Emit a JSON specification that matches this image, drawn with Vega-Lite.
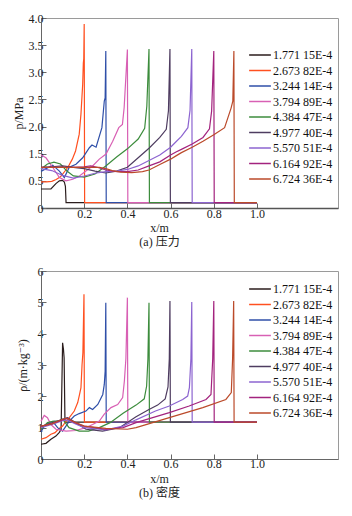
{
"$schema": "https://vega.github.io/schema/vega-lite/v6.json",
"background": "white",
"padding": {"left": 11, "top": 11, "right": 0, "bottom": 0},
"autosize": {"type": "pad"},
"spacing": 63,
"bounds": "flush",
"resolve": {"legend": {"color": "independent"}},
"config": {
 "font": "Liberation Serif, Times New Roman, DejaVu Serif, serif",
 "view": {"stroke": "#9a9a9a", "strokeWidth": 1},
 "axis": {"grid": false, "labelFont": "Liberation Serif, Times New Roman, DejaVu Serif, serif", "labelFontSize": 12, "labelColor": "#222", "titleFont": "Liberation Serif, Times New Roman, DejaVu Serif, serif", "titleFontSize": 12, "titleFontWeight": "normal", "titleColor": "#222", "tickSize": -5, "tickColor": "#666", "domainColor": "#666"},
 "legend": {"orient": "none", "legendX": 210.5, "title": null, "symbolType": "M-1.45,0H1.45", "symbolSize": 225, "symbolStrokeWidth": 1.5, "labelFont": "Liberation Serif, Times New Roman, DejaVu Serif, serif", "labelFontSize": 12, "labelColor": "#111", "labelOffset": 4.5, "rowPadding": 0.5, "padding": 0, "labelLimit": 200},
 "title": {"font": "Liberation Serif, Times New Roman, Noto Sans CJK SC, serif", "fontSize": 12, "fontWeight": "normal", "color": "#222"}
},
"datasets": {
"pres": [
{"s":"1.771 15E-4","x":0,"y":0.35},{"s":"1.771 15E-4","x":0.046,"y":0.35},{"s":"1.771 15E-4","x":0.069,"y":0.45},{"s":"1.771 15E-4","x":0.085,"y":0.5},{"s":"1.771 15E-4","x":0.1,"y":0.52},{"s":"1.771 15E-4","x":0.108,"y":0.48},{"s":"1.771 15E-4","x":0.113,"y":0.4},{"s":"1.771 15E-4","x":0.116,"y":0.1},{"s":"1.771 15E-4","x":1.0,"y":0.1},
{"s":"2.673 82E-4","x":0,"y":0.48},{"s":"2.673 82E-4","x":0.025,"y":0.48},{"s":"2.673 82E-4","x":0.05,"y":0.49},{"s":"2.673 82E-4","x":0.07,"y":0.55},{"s":"2.673 82E-4","x":0.09,"y":0.65},{"s":"2.673 82E-4","x":0.1,"y":0.75},{"s":"2.673 82E-4","x":0.115,"y":0.9},{"s":"2.673 82E-4","x":0.13,"y":1.08},{"s":"2.673 82E-4","x":0.145,"y":1.3},{"s":"2.673 82E-4","x":0.16,"y":1.55},{"s":"2.673 82E-4","x":0.177,"y":1.86},{"s":"2.673 82E-4","x":0.185,"y":2.23},{"s":"2.673 82E-4","x":0.193,"y":2.78},{"s":"2.673 82E-4","x":0.196,"y":3.17},{"s":"2.673 82E-4","x":0.198,"y":3.25},{"s":"2.673 82E-4","x":0.2,"y":3.89},{"s":"2.673 82E-4","x":0.202,"y":0.1},{"s":"2.673 82E-4","x":1.0,"y":0.1},
{"s":"3.244 14E-4","x":0,"y":0.85},{"s":"3.244 14E-4","x":0.023,"y":0.95},{"s":"3.244 14E-4","x":0.054,"y":1.08},{"s":"3.244 14E-4","x":0.085,"y":0.86},{"s":"3.244 14E-4","x":0.108,"y":0.62},{"s":"3.244 14E-4","x":0.131,"y":1.0},{"s":"3.244 14E-4","x":0.162,"y":1.11},{"s":"3.244 14E-4","x":0.193,"y":1.35},{"s":"3.244 14E-4","x":0.224,"y":1.61},{"s":"3.244 14E-4","x":0.236,"y":1.66},{"s":"3.244 14E-4","x":0.255,"y":1.62},{"s":"3.244 14E-4","x":0.282,"y":1.98},{"s":"3.244 14E-4","x":0.293,"y":2.47},{"s":"3.244 14E-4","x":0.297,"y":2.53},{"s":"3.244 14E-4","x":0.3,"y":3.39},{"s":"3.244 14E-4","x":0.302,"y":0.1},{"s":"3.244 14E-4","x":1.0,"y":0.1},
{"s":"3.794 89E-4","x":0,"y":1.45},{"s":"3.794 89E-4","x":0.023,"y":1.35},{"s":"3.794 89E-4","x":0.054,"y":1.0},{"s":"3.794 89E-4","x":0.085,"y":0.62},{"s":"3.794 89E-4","x":0.116,"y":0.5},{"s":"3.794 89E-4","x":0.147,"y":0.56},{"s":"3.794 89E-4","x":0.178,"y":0.68},{"s":"3.794 89E-4","x":0.208,"y":0.86},{"s":"3.794 89E-4","x":0.239,"y":1.05},{"s":"3.794 89E-4","x":0.27,"y":1.3},{"s":"3.794 89E-4","x":0.301,"y":1.49},{"s":"3.794 89E-4","x":0.332,"y":1.73},{"s":"3.794 89E-4","x":0.36,"y":1.98},{"s":"3.794 89E-4","x":0.377,"y":2.04},{"s":"3.794 89E-4","x":0.385,"y":2.35},{"s":"3.794 89E-4","x":0.4,"y":3.42},{"s":"3.794 89E-4","x":0.402,"y":0.1},{"s":"3.794 89E-4","x":1.0,"y":0.1},
{"s":"4.384 47E-4","x":0,"y":0.94},{"s":"4.384 47E-4","x":0.03,"y":1.12},{"s":"4.384 47E-4","x":0.06,"y":1.19},{"s":"4.384 47E-4","x":0.09,"y":1.12},{"s":"4.384 47E-4","x":0.12,"y":0.86},{"s":"4.384 47E-4","x":0.15,"y":0.68},{"s":"4.384 47E-4","x":0.2,"y":0.64},{"s":"4.384 47E-4","x":0.25,"y":0.75},{"s":"4.384 47E-4","x":0.3,"y":1.05},{"s":"4.384 47E-4","x":0.35,"y":1.38},{"s":"4.384 47E-4","x":0.4,"y":1.59},{"s":"4.384 47E-4","x":0.45,"y":1.77},{"s":"4.384 47E-4","x":0.48,"y":1.97},{"s":"4.384 47E-4","x":0.49,"y":2.38},{"s":"4.384 47E-4","x":0.5,"y":3.43},{"s":"4.384 47E-4","x":0.502,"y":0.1},{"s":"4.384 47E-4","x":1.0,"y":0.1},
{"s":"4.977 40E-4","x":0,"y":1.0},{"s":"4.977 40E-4","x":0.05,"y":1.02},{"s":"4.977 40E-4","x":0.1,"y":1.05},{"s":"4.977 40E-4","x":0.15,"y":1.0},{"s":"4.977 40E-4","x":0.2,"y":0.95},{"s":"4.977 40E-4","x":0.25,"y":0.86},{"s":"4.977 40E-4","x":0.3,"y":0.79},{"s":"4.977 40E-4","x":0.35,"y":0.86},{"s":"4.977 40E-4","x":0.4,"y":1.0},{"s":"4.977 40E-4","x":0.45,"y":1.35},{"s":"4.977 40E-4","x":0.5,"y":1.6},{"s":"4.977 40E-4","x":0.55,"y":1.8},{"s":"4.977 40E-4","x":0.58,"y":1.95},{"s":"4.977 40E-4","x":0.59,"y":2.29},{"s":"4.977 40E-4","x":0.597,"y":3.43},{"s":"4.977 40E-4","x":0.599,"y":0.1},{"s":"4.977 40E-4","x":1.0,"y":0.1},
{"s":"5.570 51E-4","x":0,"y":0.95},{"s":"5.570 51E-4","x":0.05,"y":0.88},{"s":"5.570 51E-4","x":0.1,"y":0.7},{"s":"5.570 51E-4","x":0.15,"y":0.6},{"s":"5.570 51E-4","x":0.2,"y":0.68},{"s":"5.570 51E-4","x":0.25,"y":0.78},{"s":"5.570 51E-4","x":0.3,"y":0.84},{"s":"5.570 51E-4","x":0.35,"y":0.86},{"s":"5.570 51E-4","x":0.4,"y":0.92},{"s":"5.570 51E-4","x":0.45,"y":1.05},{"s":"5.570 51E-4","x":0.5,"y":1.25},{"s":"5.570 51E-4","x":0.55,"y":1.45},{"s":"5.570 51E-4","x":0.6,"y":1.62},{"s":"5.570 51E-4","x":0.625,"y":1.72},{"s":"5.570 51E-4","x":0.65,"y":1.82},{"s":"5.570 51E-4","x":0.68,"y":1.98},{"s":"5.570 51E-4","x":0.69,"y":2.3},{"s":"5.570 51E-4","x":0.698,"y":3.43},{"s":"5.570 51E-4","x":0.7,"y":0.1},{"s":"5.570 51E-4","x":1.0,"y":0.1},
{"s":"6.164 92E-4","x":0,"y":1.0},{"s":"6.164 92E-4","x":0.1,"y":1.0},{"s":"6.164 92E-4","x":0.15,"y":1.0},{"s":"6.164 92E-4","x":0.2,"y":1.02},{"s":"6.164 92E-4","x":0.23,"y":1.05},{"s":"6.164 92E-4","x":0.26,"y":1.0},{"s":"6.164 92E-4","x":0.3,"y":0.9},{"s":"6.164 92E-4","x":0.35,"y":0.84},{"s":"6.164 92E-4","x":0.4,"y":0.84},{"s":"6.164 92E-4","x":0.45,"y":0.9},{"s":"6.164 92E-4","x":0.5,"y":1.05},{"s":"6.164 92E-4","x":0.55,"y":1.2},{"s":"6.164 92E-4","x":0.6,"y":1.45},{"s":"6.164 92E-4","x":0.625,"y":1.53},{"s":"6.164 92E-4","x":0.65,"y":1.58},{"s":"6.164 92E-4","x":0.7,"y":1.68},{"s":"6.164 92E-4","x":0.75,"y":1.8},{"s":"6.164 92E-4","x":0.78,"y":1.96},{"s":"6.164 92E-4","x":0.79,"y":2.29},{"s":"6.164 92E-4","x":0.8,"y":3.39},{"s":"6.164 92E-4","x":0.802,"y":0.1},{"s":"6.164 92E-4","x":1.0,"y":0.1},
{"s":"6.724 36E-4","x":0,"y":1.0},{"s":"6.724 36E-4","x":0.1,"y":1.0},{"s":"6.724 36E-4","x":0.2,"y":1.0},{"s":"6.724 36E-4","x":0.27,"y":1.0},{"s":"6.724 36E-4","x":0.3,"y":0.95},{"s":"6.724 36E-4","x":0.33,"y":0.88},{"s":"6.724 36E-4","x":0.37,"y":0.82},{"s":"6.724 36E-4","x":0.42,"y":0.8},{"s":"6.724 36E-4","x":0.47,"y":0.84},{"s":"6.724 36E-4","x":0.5,"y":0.9},{"s":"6.724 36E-4","x":0.55,"y":1.1},{"s":"6.724 36E-4","x":0.6,"y":1.3},{"s":"6.724 36E-4","x":0.625,"y":1.42},{"s":"6.724 36E-4","x":0.65,"y":1.52},{"s":"6.724 36E-4","x":0.7,"y":1.62},{"s":"6.724 36E-4","x":0.75,"y":1.73},{"s":"6.724 36E-4","x":0.8,"y":1.85},{"s":"6.724 36E-4","x":0.85,"y":1.98},{"s":"6.724 36E-4","x":0.88,"y":2.34},{"s":"6.724 36E-4","x":0.888,"y":2.47},{"s":"6.724 36E-4","x":0.893,"y":3.39},{"s":"6.724 36E-4","x":0.895,"y":0.1},{"s":"6.724 36E-4","x":1.0,"y":0.1}
],
"dens": [
{"s":"1.771 15E-4","x":0,"y":0.47},{"s":"1.771 15E-4","x":0.023,"y":0.5},{"s":"1.771 15E-4","x":0.046,"y":0.63},{"s":"1.771 15E-4","x":0.069,"y":0.73},{"s":"1.771 15E-4","x":0.085,"y":0.85},{"s":"1.771 15E-4","x":0.093,"y":0.95},{"s":"1.771 15E-4","x":0.1,"y":3.71},{"s":"1.771 15E-4","x":0.104,"y":3.5},{"s":"1.771 15E-4","x":0.107,"y":3.23},{"s":"1.771 15E-4","x":0.111,"y":1.18},{"s":"1.771 15E-4","x":1.0,"y":1.18},
{"s":"2.673 82E-4","x":0,"y":0.63},{"s":"2.673 82E-4","x":0.023,"y":0.68},{"s":"2.673 82E-4","x":0.046,"y":0.79},{"s":"2.673 82E-4","x":0.065,"y":0.84},{"s":"2.673 82E-4","x":0.08,"y":0.95},{"s":"2.673 82E-4","x":0.1,"y":1.05},{"s":"2.673 82E-4","x":0.116,"y":1.21},{"s":"2.673 82E-4","x":0.131,"y":1.32},{"s":"2.673 82E-4","x":0.154,"y":1.53},{"s":"2.673 82E-4","x":0.17,"y":1.8},{"s":"2.673 82E-4","x":0.178,"y":2.05},{"s":"2.673 82E-4","x":0.185,"y":2.28},{"s":"2.673 82E-4","x":0.19,"y":3.0},{"s":"2.673 82E-4","x":0.194,"y":3.4},{"s":"2.673 82E-4","x":0.199,"y":5.26},{"s":"2.673 82E-4","x":0.201,"y":1.18},{"s":"2.673 82E-4","x":1.0,"y":1.18},
{"s":"3.244 14E-4","x":0,"y":0.86},{"s":"3.244 14E-4","x":0.015,"y":1.05},{"s":"3.244 14E-4","x":0.035,"y":1.15},{"s":"3.244 14E-4","x":0.054,"y":1.2},{"s":"3.244 14E-4","x":0.077,"y":1.0},{"s":"3.244 14E-4","x":0.1,"y":0.89},{"s":"3.244 14E-4","x":0.131,"y":1.21},{"s":"3.244 14E-4","x":0.154,"y":1.37},{"s":"3.244 14E-4","x":0.177,"y":1.45},{"s":"3.244 14E-4","x":0.208,"y":1.53},{"s":"3.244 14E-4","x":0.224,"y":1.64},{"s":"3.244 14E-4","x":0.239,"y":1.58},{"s":"3.244 14E-4","x":0.263,"y":1.74},{"s":"3.244 14E-4","x":0.286,"y":2.06},{"s":"3.244 14E-4","x":0.293,"y":2.38},{"s":"3.244 14E-4","x":0.297,"y":2.8},{"s":"3.244 14E-4","x":0.3,"y":4.99},{"s":"3.244 14E-4","x":0.302,"y":1.18},{"s":"3.244 14E-4","x":1.0,"y":1.18},
{"s":"3.794 89E-4","x":0,"y":1.2},{"s":"3.794 89E-4","x":0.015,"y":1.39},{"s":"3.794 89E-4","x":0.03,"y":1.32},{"s":"3.794 89E-4","x":0.046,"y":1.1},{"s":"3.794 89E-4","x":0.069,"y":0.95},{"s":"3.794 89E-4","x":0.116,"y":0.89},{"s":"3.794 89E-4","x":0.162,"y":0.91},{"s":"3.794 89E-4","x":0.208,"y":1.0},{"s":"3.794 89E-4","x":0.239,"y":1.1},{"s":"3.794 89E-4","x":0.27,"y":1.21},{"s":"3.794 89E-4","x":0.293,"y":1.43},{"s":"3.794 89E-4","x":0.324,"y":1.64},{"s":"3.794 89E-4","x":0.355,"y":1.74},{"s":"3.794 89E-4","x":0.378,"y":1.96},{"s":"3.794 89E-4","x":0.386,"y":2.49},{"s":"3.794 89E-4","x":0.393,"y":3.2},{"s":"3.794 89E-4","x":0.4,"y":5.15},{"s":"3.794 89E-4","x":0.402,"y":1.18},{"s":"3.794 89E-4","x":1.0,"y":1.18},
{"s":"4.384 47E-4","x":0,"y":0.95},{"s":"4.384 47E-4","x":0.03,"y":1.16},{"s":"4.384 47E-4","x":0.06,"y":1.21},{"s":"4.384 47E-4","x":0.085,"y":1.22},{"s":"4.384 47E-4","x":0.1,"y":1.27},{"s":"4.384 47E-4","x":0.13,"y":1.0},{"s":"4.384 47E-4","x":0.177,"y":0.89},{"s":"4.384 47E-4","x":0.22,"y":0.89},{"s":"4.384 47E-4","x":0.27,"y":1.0},{"s":"4.384 47E-4","x":0.32,"y":1.16},{"s":"4.384 47E-4","x":0.38,"y":1.46},{"s":"4.384 47E-4","x":0.44,"y":1.72},{"s":"4.384 47E-4","x":0.465,"y":1.85},{"s":"4.384 47E-4","x":0.478,"y":1.92},{"s":"4.384 47E-4","x":0.489,"y":2.33},{"s":"4.384 47E-4","x":0.495,"y":3.2},{"s":"4.384 47E-4","x":0.5,"y":4.99},{"s":"4.384 47E-4","x":0.502,"y":1.18},{"s":"4.384 47E-4","x":1.0,"y":1.18},
{"s":"4.977 40E-4","x":0,"y":1.0},{"s":"4.977 40E-4","x":0.008,"y":1.05},{"s":"4.977 40E-4","x":0.054,"y":1.16},{"s":"4.977 40E-4","x":0.1,"y":1.27},{"s":"4.977 40E-4","x":0.123,"y":1.32},{"s":"4.977 40E-4","x":0.162,"y":1.16},{"s":"4.977 40E-4","x":0.208,"y":0.95},{"s":"4.977 40E-4","x":0.285,"y":0.89},{"s":"4.977 40E-4","x":0.363,"y":1.0},{"s":"4.977 40E-4","x":0.44,"y":1.35},{"s":"4.977 40E-4","x":0.5,"y":1.58},{"s":"4.977 40E-4","x":0.54,"y":1.72},{"s":"4.977 40E-4","x":0.575,"y":1.92},{"s":"4.977 40E-4","x":0.588,"y":2.3},{"s":"4.977 40E-4","x":0.594,"y":3.2},{"s":"4.977 40E-4","x":0.597,"y":5.04},{"s":"4.977 40E-4","x":0.599,"y":1.18},{"s":"4.977 40E-4","x":1.0,"y":1.18},
{"s":"5.570 51E-4","x":0,"y":1.0},{"s":"5.570 51E-4","x":0.05,"y":1.1},{"s":"5.570 51E-4","x":0.1,"y":1.22},{"s":"5.570 51E-4","x":0.12,"y":1.25},{"s":"5.570 51E-4","x":0.16,"y":1.12},{"s":"5.570 51E-4","x":0.2,"y":1.0},{"s":"5.570 51E-4","x":0.3,"y":0.93},{"s":"5.570 51E-4","x":0.38,"y":1.05},{"s":"5.570 51E-4","x":0.44,"y":1.25},{"s":"5.570 51E-4","x":0.53,"y":1.53},{"s":"5.570 51E-4","x":0.594,"y":1.69},{"s":"5.570 51E-4","x":0.656,"y":1.9},{"s":"5.570 51E-4","x":0.679,"y":2.01},{"s":"5.570 51E-4","x":0.687,"y":2.28},{"s":"5.570 51E-4","x":0.694,"y":3.2},{"s":"5.570 51E-4","x":0.698,"y":5.01},{"s":"5.570 51E-4","x":0.7,"y":1.18},{"s":"5.570 51E-4","x":1.0,"y":1.18},
{"s":"6.164 92E-4","x":0,"y":1.05},{"s":"6.164 92E-4","x":0.05,"y":1.12},{"s":"6.164 92E-4","x":0.1,"y":1.25},{"s":"6.164 92E-4","x":0.12,"y":1.3},{"s":"6.164 92E-4","x":0.16,"y":1.15},{"s":"6.164 92E-4","x":0.2,"y":1.05},{"s":"6.164 92E-4","x":0.3,"y":0.95},{"s":"6.164 92E-4","x":0.38,"y":1.0},{"s":"6.164 92E-4","x":0.44,"y":1.16},{"s":"6.164 92E-4","x":0.594,"y":1.48},{"s":"6.164 92E-4","x":0.686,"y":1.69},{"s":"6.164 92E-4","x":0.764,"y":1.9},{"s":"6.164 92E-4","x":0.787,"y":2.06},{"s":"6.164 92E-4","x":0.795,"y":3.2},{"s":"6.164 92E-4","x":0.8,"y":5.04},{"s":"6.164 92E-4","x":0.802,"y":1.18},{"s":"6.164 92E-4","x":1.0,"y":1.18},
{"s":"6.724 36E-4","x":0,"y":1.05},{"s":"6.724 36E-4","x":0.05,"y":1.12},{"s":"6.724 36E-4","x":0.1,"y":1.27},{"s":"6.724 36E-4","x":0.12,"y":1.3},{"s":"6.724 36E-4","x":0.16,"y":1.16},{"s":"6.724 36E-4","x":0.2,"y":1.05},{"s":"6.724 36E-4","x":0.3,"y":0.98},{"s":"6.724 36E-4","x":0.4,"y":0.95},{"s":"6.724 36E-4","x":0.44,"y":1.0},{"s":"6.724 36E-4","x":0.594,"y":1.32},{"s":"6.724 36E-4","x":0.749,"y":1.64},{"s":"6.724 36E-4","x":0.856,"y":1.9},{"s":"6.724 36E-4","x":0.881,"y":2.12},{"s":"6.724 36E-4","x":0.887,"y":3.2},{"s":"6.724 36E-4","x":0.892,"y":5.04},{"s":"6.724 36E-4","x":0.894,"y":1.18},{"s":"6.724 36E-4","x":1.0,"y":1.18}
]
},
"vconcat": [
{
 "width": 297, "height": 190,
 "data": {"name": "pres"},
 "title": {"text": "(a) 压力", "orient": "bottom", "anchor": "middle", "dx": -30, "offset": 4},
 "mark": {"type": "line", "strokeWidth": 1.2},
 "encoding": {
  "x": {"field": "x", "type": "quantitative", "scale": {"domain": [0, 1.375], "nice": false, "zero": false}, "axis": {"values": [0.2, 0.4, 0.6, 0.8, 1.0], "format": ".1f", "title": "x/m", "titleX": 118, "labelPadding": 5, "titlePadding": 3, "domainColor": "#555", "domainWidth": 1.5}},
  "y": {"field": "y", "type": "quantitative", "scale": {"domain": [0, 0.5, 1.5, 2, 2.5, 3, 3.5, 4], "range": [190, 162.857, 135.714, 108.571, 81.429, 54.286, 27.143, 0], "nice": false, "zero": false}, "axis": {"values": [0, 0.5, 1.5, 2, 2.5, 3, 3.5, 4], "labelExpr": "datum.value == 0 ? '0' : format(datum.value, '.1f')", "title": "p/MPa", "labelPadding": 3, "titlePadding": 3}},
  "color": {"field": "s", "type": "nominal", "scale": {"domain": ["1.771 15E-4","2.673 82E-4","3.244 14E-4","3.794 89E-4","4.384 47E-4","4.977 40E-4","5.570 51E-4","6.164 92E-4","6.724 36E-4"], "range": ["#2b1d1d","#ff5020","#2f4fa8","#d860b4","#3c8c3c","#4e3c60","#8c64d0","#a3237e","#bb4a2a"]}, "legend": {"legendY": 28.5}}
 }
},
{
 "width": 297, "height": 188,
 "data": {"name": "dens"},
 "title": {"text": "(b) 密度", "orient": "bottom", "anchor": "middle", "dx": -30, "offset": 4},
 "mark": {"type": "line", "strokeWidth": 1.2},
 "encoding": {
  "x": {"field": "x", "type": "quantitative", "scale": {"domain": [0, 1.375], "nice": false, "zero": false}, "axis": {"values": [0.2, 0.4, 0.6, 0.8, 1.0], "format": ".1f", "title": "x/m", "titleX": 118, "labelPadding": 4, "titlePadding": 4}},
  "y": {"field": "y", "type": "quantitative", "scale": {"domain": [0, 6], "nice": false, "zero": false}, "axis": {"values": [0, 1, 2, 3, 4, 5, 6], "format": "d", "title": "ρ/(m·kg⁻³)", "labelPadding": 3, "titlePadding": 8}},
  "color": {"field": "s", "type": "nominal", "scale": {"domain": ["1.771 15E-4","2.673 82E-4","3.244 14E-4","3.794 89E-4","4.384 47E-4","4.977 40E-4","5.570 51E-4","6.164 92E-4","6.724 36E-4"], "range": ["#2b1d1d","#ff5020","#2f4fa8","#d860b4","#3c8c3c","#4e3c60","#8c64d0","#a3237e","#bb4a2a"]}, "legend": {"legendY": 9.5}}
 }
}
]
}
